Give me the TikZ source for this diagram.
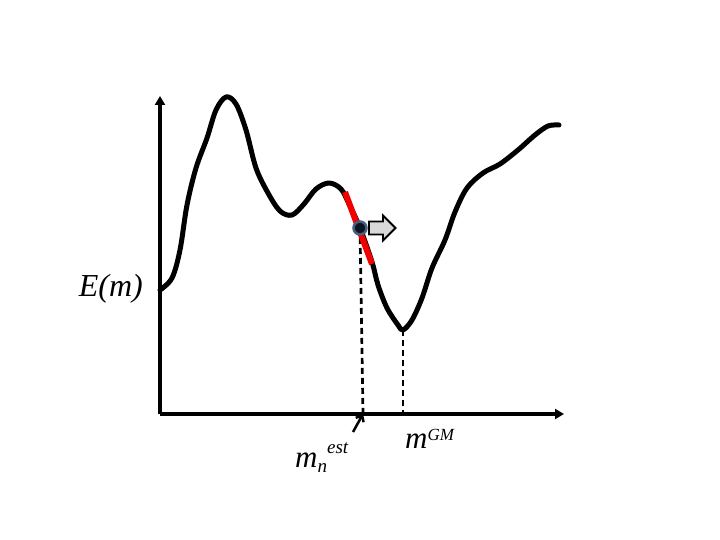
\documentclass[tikz,border=0pt]{standalone}
\usepackage{fontspec}
\setmainfont{Liberation Serif}
\usetikzlibrary{arrows.meta}
\definecolor{ring}{RGB}{70,95,125}
\definecolor{dotfill}{RGB}{15,20,35}
\tikzset{
  axis/.style={line width=3.5pt,-{Triangle[length=9pt,width=10pt]}},
  curve/.style={line width=5pt,line cap=round,line join=round},
  hot/.style={line width=6pt,red!95!black,line cap=butt},
  guide/.style={line width=2.7pt,dash pattern=on 6pt off 4pt},
  blockarrow/.style={draw=black,fill=black!15,line width=1.8pt,line join=miter},
  lbl/.style={font=\fontsize{31}{31}\selectfont\itshape,inner sep=0pt},
}
\begin{document}
\begin{tikzpicture}[x=1pt,y=-1pt]
\useasboundingbox (0,0) rectangle (720,540);
\coordinate (o) at (160,414);
\coordinate (ytop) at (160,96);
\coordinate (xend) at (564,414);
\draw[axis] (o) -- (ytop);
\draw[axis] (o) -- (xend);
% dashed guides
\coordinate (p) at (360,228);
\coordinate (pb) at (363,414);
\coordinate (g) at (403,330);
\coordinate (gb) at (403,414);
\draw[guide] (p) -- (pb);
\draw[guide] (g) -- (gb);
% curve
\draw[curve] plot[smooth,tension=0.55] coordinates {
 (160,290) (172,278) (180,250) (187,205) (196,168) (207,138) (216,110) (226,97) (236,104) (246,130)
 (256,168) (268,193) (280,211) (292,215) (304,204) (316,189) (329,183) (341,189) (349,204)
 (360,228) (372,262) (378,285) (387,308) (398,325) (403,330) (412,320) (422,298) (432,268)
 (445,240) (455,212) (467,188) (483,173) (500,164) (518,150) (535,135) (548,126) (559,125)};
\draw[hot] (345,192) -- (372,264);
% point and block arrow
\node[circle,draw=ring,line width=2.5pt,fill=dotfill,inner sep=0pt,minimum size=13pt] (pt) at (p) {};
\draw[blockarrow] (369,221.5) -- (383,221.5) -- (383,215.5) -- (395.5,228) -- (383,240.5) -- (383,234.5) -- (369,234.5) -- cycle;
% labels
\node[lbl,anchor=east,font=\fontsize{32}{32}\selectfont\itshape] (E) at (143,289) {E(m)};
\node[lbl,anchor=base west] (mest) at (295,467) {m\raisebox{-5pt}{\fontsize{19}{19}\selectfont n}\raisebox{14pt}{\fontsize{19}{19}\selectfont est}};
\node[lbl,anchor=base west] (mgm) at (405,448) {m\raisebox{8pt}{\fontsize{17}{17}\selectfont GM}};
\coordinate (tk) at (353,432);
\draw[line width=2.5pt,-{Straight Barb[length=5pt,width=9pt]}] (tk) -- (pb);
\end{tikzpicture}
\end{document}
